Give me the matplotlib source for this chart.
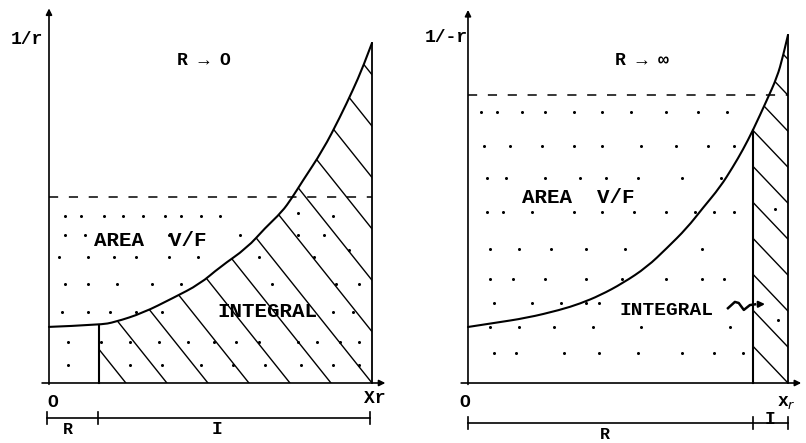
import numpy as np
import matplotlib

matplotlib.use("Agg")
from matplotlib import pyplot as plt
from matplotlib.path import Path
from matplotlib.patches import PathPatch

# panel units: x in fractions of x_r, y in fractions of 1/r at x_r
# left panel, R -> 0
left_x = [0, 0.158, 0.204, 0.291, 0.384, 0.467, 0.529, 0.613, 0.669, 0.721, 0.752, 0.783, 0.848, 0.901, 0.941, 0.972, 1.0]
left_y = [0.165, 0.171, 0.179, 0.206, 0.25, 0.291, 0.341, 0.397, 0.456, 0.503, 0.544, 0.591, 0.685, 0.782, 0.862, 0.929, 1.0]
left_level = 0.547   # V/F line
left_split = 0.155   # R | I

# right panel, R -> inf
right_x = [0, 0.078, 0.184, 0.288, 0.35, 0.413, 0.484, 0.559, 0.622, 0.684, 0.734, 0.788, 0.828, 0.859, 0.891, 0.934, 0.966, 0.984, 1.0]
right_y = [0.161, 0.172, 0.187, 0.21, 0.228, 0.252, 0.287, 0.333, 0.388, 0.445, 0.503, 0.563, 0.621, 0.670, 0.727, 0.813, 0.879, 0.937, 1.0]
right_level = 0.828
right_split = 0.891

# stipple dots
left_dots_x = [0.05, 0.10, 0.17, 0.23, 0.29, 0.36, 0.41, 0.47, 0.53, 0.77, 0.88,
               0.05, 0.11, 0.37, 0.59, 0.77, 0.85,
               0.03, 0.12, 0.20, 0.27, 0.37, 0.46, 0.65, 0.82, 0.93,
               0.05, 0.12, 0.21, 0.32, 0.41, 0.69, 0.89, 0.96,
               0.04, 0.12, 0.19, 0.27, 0.35, 0.88, 0.94,
               0.06, 0.16, 0.25, 0.34, 0.43, 0.51, 0.58, 0.65, 0.77, 0.83, 0.90, 0.96,
               0.06, 0.25, 0.35, 0.47, 0.57, 0.67, 0.78, 0.88, 0.96]
left_dots_y = [0.49] * 9 + [0.50, 0.49] + \
              [0.435] * 6 + \
              [0.37] * 8 + [0.39] + \
              [0.29] * 8 + \
              [0.21] * 7 + \
              [0.12] * 12 + \
              [0.053] * 9

right_dots_x = [0.04, 0.09, 0.17, 0.24, 0.33, 0.42, 0.51, 0.62, 0.72, 0.81,
                0.05, 0.13, 0.23, 0.33, 0.42, 0.54, 0.65, 0.75, 0.83,
                0.06, 0.12, 0.24, 0.35, 0.43, 0.53, 0.67, 0.79,
                0.06, 0.11, 0.20, 0.33, 0.42, 0.52, 0.62, 0.71, 0.77, 0.83, 0.96,
                0.07, 0.16, 0.26, 0.37, 0.49, 0.73,
                0.07, 0.14, 0.24, 0.37, 0.48, 0.62, 0.73, 0.80,
                0.08, 0.20, 0.29, 0.37, 0.41,
                0.07, 0.16, 0.27, 0.39, 0.54, 0.82, 0.97,
                0.08, 0.15, 0.30, 0.41, 0.53, 0.67, 0.77, 0.86]
right_dots_y = [0.78] * 10 + [0.68] * 9 + [0.59] * 8 + [0.49] * 10 + [0.50] + \
               [0.385] * 6 + [0.30] * 8 + [0.23] * 5 + [0.16] * 6 + [0.18] + [0.086] * 8

# wavy pointer from INTEGRAL to the strip
wave_x = [0.8125, 0.834, 0.846, 0.862, 0.881, 0.897, 0.937]
wave_y = [0.215, 0.233, 0.23, 0.21, 0.224, 0.226, 0.227]

FONT = dict(family=["Liberation Mono", "DejaVu Sans Mono", "DejaVu Sans"], weight="bold", color="black")


def smooth_verts(px, py):
    # quadratic bezier through the read points (midpoint scheme)
    pts = np.column_stack([px, py])
    verts = [pts[0]]
    codes = [Path.MOVETO]
    for i in range(1, len(pts) - 2):
        verts += [pts[i], (pts[i] + pts[i + 1]) / 2]
        codes += [Path.CURVE3, Path.CURVE3]
    verts += [pts[-2], pts[-1]]
    codes += [Path.CURVE3, Path.CURVE3]
    return verts, codes


def curve(ax, px, py):
    verts, codes = smooth_verts(px, py)
    ax.add_patch(PathPatch(Path(verts, codes), facecolor="none", edgecolor="black", lw=1.5,
                           capstyle="round"))
    # closed region under the curve, used to clip hatching
    verts = verts + [(1.0, 0.0), (0.0, 0.0), (0.0, 0.0)]
    codes = codes + [Path.LINETO, Path.LINETO, Path.CLOSEPOLY]
    under = PathPatch(Path(verts, codes), facecolor="none", edgecolor="none")
    ax.add_patch(under)
    return under


def hatch(ax, under, split, slope, step):
    for j in range(-12, 14):
        xk = 1.0 + j * step
        if xk <= split:
            continue
        ln, = ax.plot([split, xk], [(xk - split) * slope, 0], color="black", lw=1.0)
        ln.set_clip_path(under)


def axes_frame(ax, xmax, ytop):
    ax.annotate("", xy=(0, ytop), xytext=(0, -0.012),
                arrowprops=dict(arrowstyle="-|>", color="black", lw=1.2, mutation_scale=9))
    ax.annotate("", xy=(xmax, 0), xytext=(-0.03, 0),
                arrowprops=dict(arrowstyle="-|>", color="black", lw=1.2, mutation_scale=9))


def dim_line(ax, y, ticks):
    ax.plot([ticks[0], ticks[-1]], [y, y], color="black", lw=1.2)
    for t in ticks:
        ax.plot([t, t], [y - 0.018, y + 0.018], color="black", lw=1.2)


fig = plt.figure(figsize=(8.06, 4.43), dpi=100)

# ---- left: R -> 0
ax = fig.add_axes([0, 0, 0.5, 1])
ax.set_xlim(-0.1517, 1.096)
ax.set_ylim(-0.1765, 1.1265)
ax.axis("off")
under = curve(ax, left_x, left_y)
hatch(ax, under, left_split, 1.19, 0.127)
ax.plot([1, 1], [0, 1], color="black", lw=1.3)
ax.plot([left_split, left_split], [0, np.interp(left_split, left_x, left_y)], color="black", lw=1.5)
ax.plot([0, 1], [left_level, left_level], color="black", lw=1.1, dashes=(6, 7))
ax.plot(left_dots_x, left_dots_y, "o", color="black", ms=2.2, mew=0)
axes_frame(ax, 1.05, 1.11)
dim_line(ax, -0.103, [-0.006, 0.152, 0.994])
ax.text(-0.068, 1.009, "1/r", fontsize=13, ha="center", va="center", **FONT)
ax.text(0.48, 0.95, "R → O", fontsize=13, ha="center", va="center", **FONT)
ax.text(0.313, 0.418, "AREA  V/F", fontsize=15, ha="center", va="center", **FONT)
ax.text(0.675, 0.209, "INTEGRAL", fontsize=15, ha="center", va="center", **FONT)
ax.text(0.012, -0.056, "O", fontsize=13, ha="center", va="center", **FONT)
ax.text(1.01, -0.047, "Xr", fontsize=13, ha="center", va="center", **FONT)
ax.text(0.059, -0.138, "R", fontsize=12, ha="center", va="center", **FONT)
ax.text(0.52, -0.138, "I", fontsize=13, ha="center", va="center", **FONT)

# ---- right: R -> inf
ax = fig.add_axes([0.5, 0, 0.5, 1])
ax.set_xlim(-0.2031, 1.0563)
ax.set_ylim(-0.1724, 1.1006)
ax.axis("off")
under = curve(ax, right_x, right_y)
hatch(ax, under, right_split, 0.966, 0.107)
ax.plot([1, 1], [0, 1], color="black", lw=1.3)
ax.plot([right_split, right_split], [0, np.interp(right_split, right_x, right_y)], color="black", lw=1.5)
ax.plot([0, 1], [right_level, right_level], color="black", lw=1.1, dashes=(6, 7))
ax.plot(right_dots_x, right_dots_y, "o", color="black", ms=2.2, mew=0)
axes_frame(ax, 1.05, 1.08)
dim_line(ax, -0.115, [0, right_split, 1])
ax.plot(wave_x[:-1], wave_y[:-1], color="black", lw=1.8)
ax.annotate("", xy=(wave_x[-1], wave_y[-1]), xytext=(wave_x[-2], wave_y[-2]),
            arrowprops=dict(arrowstyle="-|>", color="black", lw=1.5, mutation_scale=9))
ax.text(-0.069, 0.994, "1/-r", fontsize=13, ha="center", va="center", **FONT)
ax.text(0.544, 0.928, "R → ∞", fontsize=13, ha="center", va="center", **FONT)
ax.text(0.344, 0.532, "AREA  V/F", fontsize=15, ha="center", va="center", **FONT)
ax.text(0.619, 0.207, "INTEGRAL", fontsize=14, ha="center", va="center", **FONT)
ax.text(-0.01, -0.055, "O", fontsize=13, ha="center", va="center", **FONT)
ax.text(0.994, -0.055, "x$_r$", fontsize=13, ha="center", va="center", **FONT)
ax.text(0.428, -0.147, "R", fontsize=12, ha="center", va="center", **FONT)
ax.text(0.944, -0.106, "I", fontsize=13, ha="center", va="center", **FONT)

fig.savefig("out.png", dpi=100, facecolor="white")
